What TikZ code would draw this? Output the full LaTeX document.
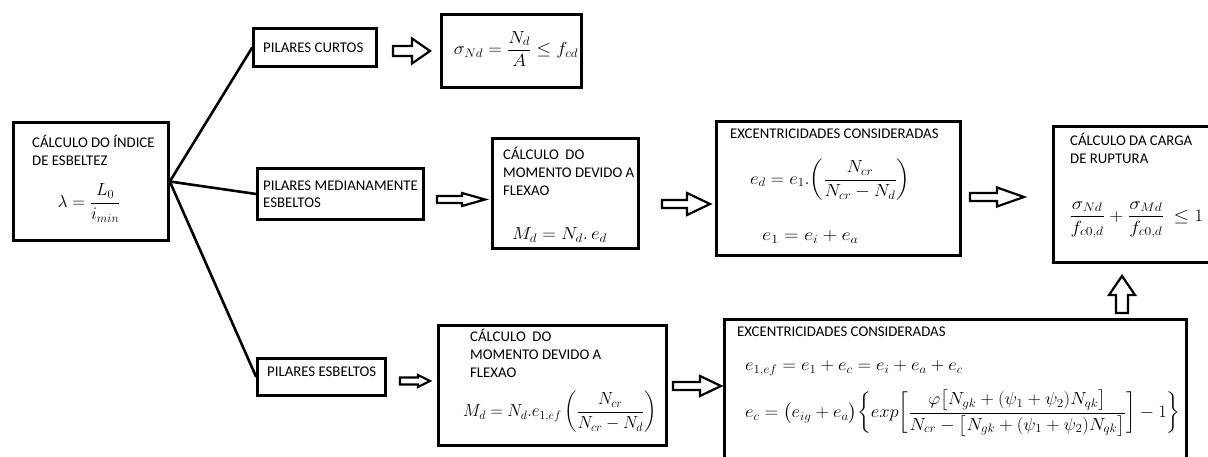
\RequirePackage{fix-cm}
\documentclass[tikz,border=0pt]{standalone}
\usepackage{amsmath}
\usepackage{graphicx}
\usepackage[no-math]{fontspec}
\setmainfont{Carlito}
\tikzset{
  box/.style={draw, line width=2.6pt, rectangle, inner sep=0pt},
  lbl/.style={font=\fontsize{14.8}{17}\selectfont, anchor=base west, inner sep=0pt},
  mth/.style={font=\fontsize{17.5}{20}\selectfont, inner sep=0pt},
  conn/.style={line width=2.6pt},
  arrowline/.style={line width=2.2pt, line join=miter, fill=white}
}
\newcommand{\harr}[6]{%
  \draw[arrowline] (#1,{#3-#4}) -- (#6,{#3-#4}) -- (#6,{#3-#5}) -- (#2,#3) -- (#6,{#3+#5}) -- (#6,{#3+#4}) -- (#1,{#3+#4}) -- cycle;}
\newcommand{\wide}[2]{\scalebox{#1}[1]{#2}}
\begin{document}
\begin{tikzpicture}[x=1pt,y=-1pt]
\useasboundingbox (0,0) rectangle (1208,457);
\fill[white] (0,0) rectangle (1208,457);
\clip (0,0) rectangle (1208,457);

% boxes
\node[box, minimum width=155pt, minimum height=118pt] (calc) at (91,181.5) {};
\node[box, minimum width=123pt, minimum height=38pt] (curtos) at (315,47.5) {};
\node[box, minimum width=140pt, minimum height=73pt] (sigma) at (511.5,51) {};
\node[box, minimum width=166pt, minimum height=51pt] (medi) at (340.5,194) {};
\node[box, minimum width=146pt, minimum height=110pt] (mom1) at (565.5,193.5) {};
\node[box, minimum width=244pt, minimum height=134pt] (exc1) at (838.5,188.5) {};
\node[box, minimum width=161.5pt, minimum height=136pt] (carga) at (1134,194.5) {};
\node[box, minimum width=128pt, minimum height=37pt] (esb) at (321.5,377) {};
\node[box, minimum width=228pt, minimum height=120pt] (mom2) at (552.5,385.5) {};
\node[box, minimum width=462pt, minimum height=155.5pt] (exc2) at (955.5,397.25) {};

% connectors
\draw[conn] (calc.east) -- (curtos.west);
\draw[conn] (calc.east) -- (medi.west);
\draw[conn] (calc.east) -- (esb.west);

% hollow arrows
\harr{393}{430}{51}{5}{12.5}{412}
\harr{437}{485}{199.5}{3.5}{6.5}{462}
\harr{662}{710}{204}{4}{11}{687}
\harr{970}{1024}{197}{4}{9.5}{997}
\harr{400}{430}{381}{3.5}{6}{418}
\harr{673}{721}{386}{4}{10}{700}
\draw[arrowline] (1116,313) -- (1116,295) -- (1109,295) -- (1122,276) -- (1135,295) -- (1128,295) -- (1128,313) -- cycle;

% labels
\node[lbl] (t1) at (32,147.5) {CÁLCULO DO ÍNDICE};
\node[lbl] (t2) at (32,165.5) {DE ESBELTEZ};
\node[lbl] (t3) at (263,52.5) {PILARES CURTOS};
\node[lbl] (t4) at (263,190.5) {PILARES MEDIANAMENTE};
\node[lbl] (t5) at (263,207.5) {ESBELTOS};
\node[lbl] (t6) at (503,159.5) {CÁLCULO\ \ DO};
\node[lbl] (t7) at (503,177.5) {MOMENTO DEVIDO A};
\node[lbl] (t8) at (503,195.5) {FLEXAO};
\node[lbl] (t9) at (730,138.5) {EXCENTRICIDADES CONSIDERADAS};
\node[lbl] (t10) at (1070,145.5) {CÁLCULO DA CARGA};
\node[lbl] (t11) at (1070,163.5) {DE RUPTURA};
\node[lbl] (t12) at (267,376.5) {PILARES ESBELTOS};
\node[lbl] (t13) at (470,341.5) {CÁLCULO\ \ DO};
\node[lbl] (t14) at (470,359.5) {MOMENTO DEVIDO A};
\node[lbl] (t15) at (470,377.5) {FLEXAO};
\node[lbl] (t16) at (737,336.5) {EXCENTRICIDADES CONSIDERADAS};

% formulas
\node[mth] (f1) at (89,203) {$\lambda = \dfrac{L_0}{i_{min}}$};
\node[mth] (f2) at (516,49) {\wide{1.07}{$\sigma_{Nd} = \dfrac{N_d}{A} \le f_{cd}$}};
\node[mth, anchor=west] (f3) at (512,235) {\wide{1.07}{$M_d = N_d.\,e_d$}};
\node[mth, anchor=west] (f4) at (750,180) {\wide{1.06}{$e_d = e_1.\!\left(\dfrac{N_{cr}}{N_{cr}-N_d}\right)$}};
\node[mth, anchor=west] (f5) at (762,237) {\wide{1.14}{$e_1 = e_i + e_a$}};
\node[mth, anchor=west] (f6) at (1069,220) {\wide{1.12}{$\dfrac{\sigma_{Nd}}{f_{c0,d}} + \dfrac{\sigma_{Md}}{f_{c0,d}}\ \le 1$}};
\node[mth, anchor=west] (f7) at (463,412) {\wide{0.97}{$M_d = N_d.e_{1,ef}\left(\dfrac{N_{cr}}{N_{cr}-N_d}\right)$}};
\node[mth, anchor=west] (f8) at (745,368) {\wide{1.06}{$e_{1,ef} = e_1 + e_c = e_i + e_a + e_c$}};
\node[mth, anchor=west] (f9) at (745,413) {\wide{1.06}{$e_c = \bigl(e_{ig}+e_a\bigr)\biggl\{exp\biggl[\dfrac{\varphi\bigl[N_{gk}+(\psi_1+\psi_2)N_{qk}\bigr]}{N_{cr}-\bigl[N_{gk}+(\psi_1+\psi_2)N_{qk}\bigr]}\biggr]-1\biggr\}$}};
\end{tikzpicture}
\end{document}
